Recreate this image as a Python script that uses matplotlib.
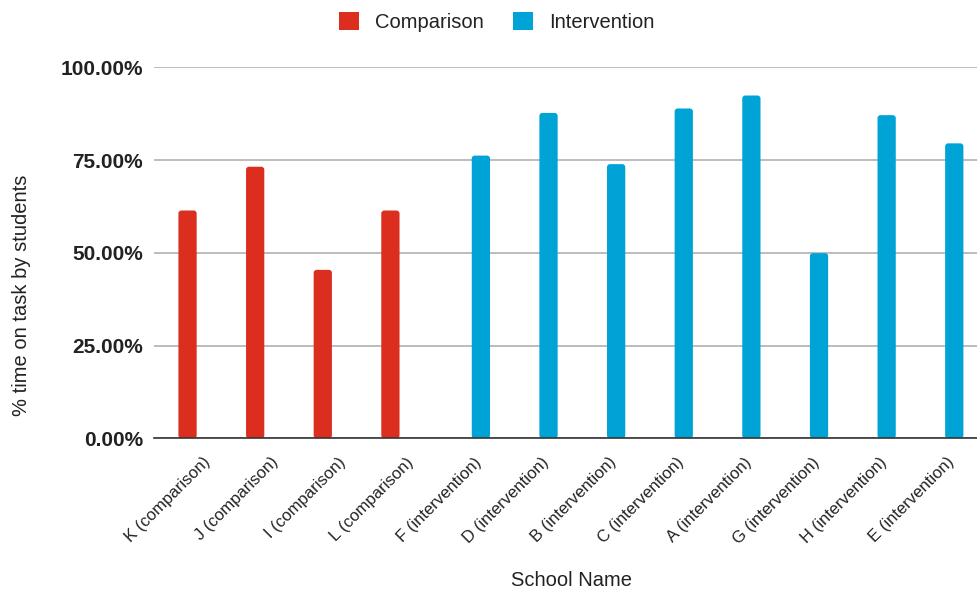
import matplotlib
matplotlib.use("Agg")
import matplotlib.pyplot as plt
import matplotlib.transforms as mtransforms
from matplotlib.patches import FancyBboxPatch, Patch
import numpy as np
from matplotlib.ticker import FuncFormatter

schools = ["K (comparison)", "J (comparison)", "I (comparison)", "L (comparison)",
           "F (intervention)", "D (intervention)", "B (intervention)", "C (intervention)",
           "A (intervention)", "G (intervention)", "H (intervention)", "E (intervention)"]
comparison = [61.4, 73.2, 45.4, 61.4, 0, 0, 0, 0, 0, 0, 0, 0]
intervention = [0, 0, 0, 0, 76.2, 87.7, 73.9, 88.9, 92.4, 49.9, 87.1, 79.5]
yticks = [0, 25, 50, 75, 100]

RED = "#dc2e1f"
BLUE = "#00a3d6"
TEXT = "#222222"
FONT = "Liberation Sans"

plt.rcParams["font.family"] = [FONT, "DejaVu Sans"]

fig = plt.figure(figsize=(9.78, 5.94), dpi=100)
ax = fig.add_axes([154 / 978, 1 - 438.3 / 594, 1 - 154 / 978, (438.3 - 67.3) / 594])

x = np.arange(len(schools))
off = 0.169
w = 0.27
ax.set_ylim(0, 100)
ax.set_xlim(-0.665, 11.52)

# rounded corners: radius in x-data units, aspect converts it to y-data units
ax_w_px = ax.get_position().width * fig.get_figwidth() * fig.dpi
ax_h_px = ax.get_position().height * fig.get_figheight() * fig.dpi
x_per_px = (11.52 + 0.665) / ax_w_px
y_per_px = 100 / ax_h_px
radius = 3 * x_per_px
aspect = y_per_px / x_per_px


def rounded_bars(bars, color):
    for rect in bars:
        h = rect.get_height()
        rect.set_visible(False)
        if h <= 0:
            continue
        ax.add_patch(FancyBboxPatch((rect.get_x(), 0), rect.get_width(), h,
                                    boxstyle=f"round,pad=0,rounding_size={radius}",
                                    mutation_aspect=aspect, facecolor=color,
                                    edgecolor="none", zorder=3))


b1 = ax.bar(x - off, comparison, width=w, color=RED, zorder=3)
b2 = ax.bar(x + off, intervention, width=w, color=BLUE, zorder=3)
rounded_bars(b1, RED)
rounded_bars(b2, BLUE)

ax.set_yticks(yticks)
ax.yaxis.set_major_formatter(FuncFormatter(lambda v, p: f"{v:.2f}%"))
for lbl in ax.get_yticklabels():
    lbl.set_fontweight("bold")
ax.tick_params(axis="y", length=0, labelsize=15, pad=8, labelcolor=TEXT)
ax.grid(axis="y", color="#b0b0b0", linewidth=1.2, zorder=0)

ax.set_xticks(x)
ax.set_xticklabels(schools, rotation=45, ha="right", rotation_mode="anchor",
                   fontsize=12, color=TEXT)
ax.tick_params(axis="x", length=0, pad=6)
shift = mtransforms.ScaledTranslation(4 / 100, -8 / 100, fig.dpi_scale_trans)
for lbl in ax.get_xticklabels():
    lbl.set_transform(lbl.get_transform() + shift)

for s in ["top", "right", "left"]:
    ax.spines[s].set_visible(False)
ax.spines["bottom"].set_color("#333333")
ax.spines["bottom"].set_linewidth(1.2)
ax.spines["bottom"].set_zorder(4)

ax.set_ylabel("% time on task by students", fontsize=14.5, color=TEXT)
ax.yaxis.set_label_coords((31 - 154) / 824, (438.3 - 295.5) / 371)
ax.set_xlabel("School Name", fontsize=14.5, color=TEXT)
ax.xaxis.set_label_coords((572 - 154) / 824, -(571 - 438.3) / 371)

handles = [Patch(facecolor=RED, label="Comparison"),
           Patch(facecolor=BLUE, label="Intervention")]
fig.legend(handles=handles, loc="center", bbox_to_anchor=(497 / 978, 1 - 22 / 594),
           ncol=2, frameon=False, fontsize=14.5, handlelength=1.0, handleheight=1.0,
           handletextpad=0.8, columnspacing=1.45, labelcolor=TEXT)

fig.savefig("out.png", dpi=100, facecolor="white")
